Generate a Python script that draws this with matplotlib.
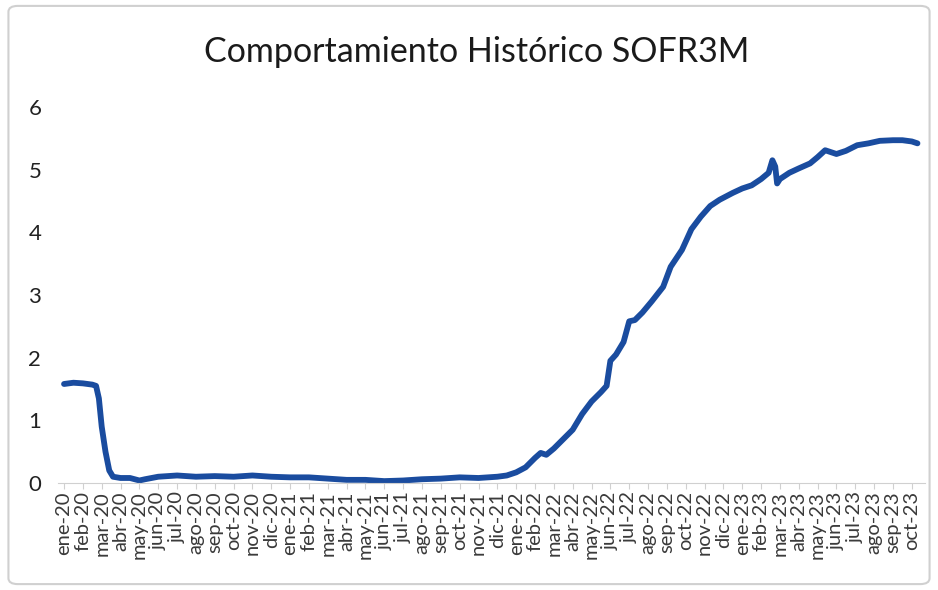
import matplotlib.pyplot as plt
from matplotlib.patches import FancyBboxPatch

# etiquetas del eje x (mensuales)
etiquetas = ['ene-20', 'feb-20', 'mar-20', 'abr-20', 'may-20', 'jun-20', 'jul-20', 'ago-20',
             'sep-20', 'oct-20', 'nov-20', 'dic-20', 'ene-21', 'feb-21', 'mar-21', 'abr-21',
             'may-21', 'jun-21', 'jul-21', 'ago-21', 'sep-21', 'oct-21', 'nov-21', 'dic-21',
             'ene-22', 'feb-22', 'mar-22', 'abr-22', 'may-22', 'jun-22', 'jul-22', 'ago-22',
             'sep-22', 'oct-22', 'nov-22', 'dic-22', 'ene-23', 'feb-23', 'mar-23', 'abr-23',
             'may-23', 'jun-23', 'jul-23', 'ago-23', 'sep-23', 'oct-23']

# posicion en meses desde ene-20 y tasa SOFR 3M (%)
meses = [0, 0.5, 1.0, 1.5, 1.7, 1.85, 2.0, 2.2, 2.4, 2.6, 3.0, 3.5, 4.0, 4.3, 5, 6, 7, 8, 9,
         10, 11, 12, 13, 14, 15, 16, 17, 18, 19, 20, 21, 22, 23, 23.5, 24, 24.5, 25, 25.3,
         25.6, 26, 26.5, 27, 27.5, 28, 28.5, 28.8, 29.0, 29.3, 29.7, 30.0, 30.3, 30.7, 31.2,
         31.8, 32.2, 32.8, 33.3, 33.8, 34.3, 34.8, 35.5, 36, 36.5, 37, 37.4, 37.6, 37.75,
         37.85, 38.0, 38.5, 39, 39.6, 40.0, 40.4, 41.0, 41.5, 42.1, 42.7, 43.3, 44, 44.5,
         45, 45.3]
sofr = [1.58, 1.60, 1.59, 1.57, 1.55, 1.35, 0.90, 0.50, 0.20, 0.10, 0.08, 0.08, 0.04, 0.06,
        0.10, 0.12, 0.10, 0.11, 0.10, 0.12, 0.10, 0.09, 0.09, 0.07, 0.05, 0.05, 0.03, 0.04,
        0.06, 0.07, 0.09, 0.08, 0.10, 0.12, 0.17, 0.25, 0.40, 0.48, 0.45, 0.55, 0.70, 0.85,
        1.10, 1.30, 1.45, 1.55, 1.95, 2.05, 2.25, 2.58, 2.60, 2.72, 2.90, 3.13, 3.45, 3.72,
        4.05, 4.25, 4.42, 4.52, 4.63, 4.70, 4.75, 4.85, 4.95, 5.15, 5.05, 4.78, 4.85, 4.95,
        5.02, 5.10, 5.20, 5.31, 5.25, 5.30, 5.39, 5.42, 5.46, 5.47, 5.47, 5.45, 5.42]

plt.rcParams['font.family'] = ['Lato', 'DejaVu Sans']

fig = plt.figure(figsize=(9.38, 5.90), dpi=100)
fig.patches.append(FancyBboxPatch((0.009, 0.01), 0.982, 0.98, boxstyle='round,pad=0,rounding_size=0.01',
                                  transform=fig.transFigure, fill=False, edgecolor='#d0d0d0', linewidth=1.5))

ax = fig.add_axes([58 / 938, 107 / 590, 867 / 938, 376 / 590])
ax.plot(meses, sofr, color='#1a4c9f', linewidth=4.2, solid_capstyle='round', solid_joinstyle='round')

ax.set_xlim(-0.32, 45.7)
ax.set_ylim(0, 6)
ax.set_xticks(range(len(etiquetas)))
ax.set_xticklabels(etiquetas, rotation=90, fontsize=14.5, color='#3a3a3a')
ax.set_yticks(range(7))
ax.tick_params(axis='y', length=0, labelsize=16, pad=12, labelcolor='#222222')
ax.tick_params(axis='x', length=4, color='#d0d0d0', pad=2)

for s in ['top', 'right', 'left']:
    ax.spines[s].set_visible(False)
ax.spines['bottom'].set_color('#d0d0d0')

fig.text(0.508, 0.912, 'Comportamiento Histórico SOFR3M', ha='center', va='center', fontsize=24.5, color='#1a1a1a')

plt.savefig('out.png', dpi=100)
